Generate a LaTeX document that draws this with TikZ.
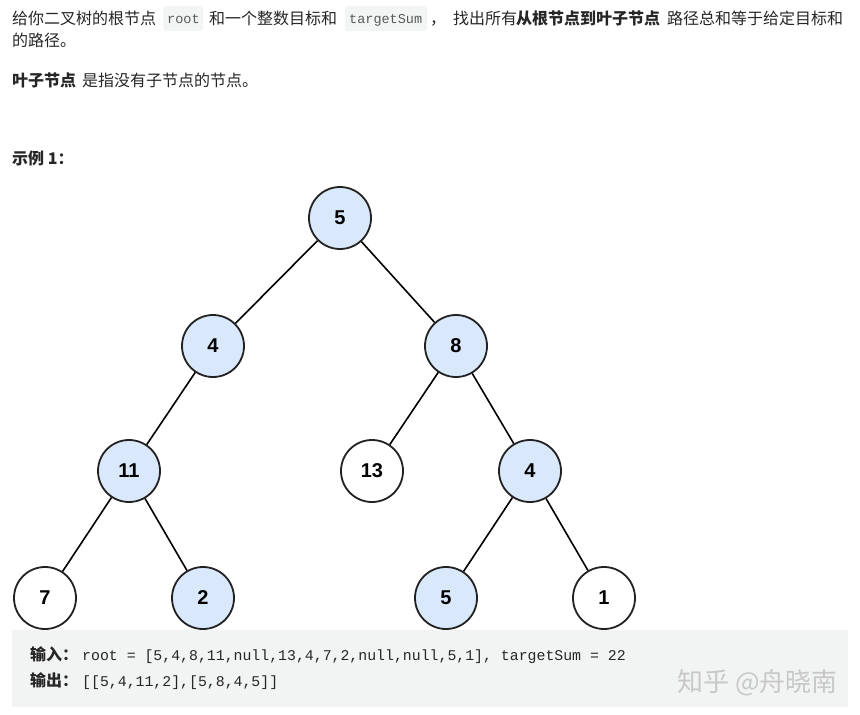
\documentclass[tikz,border=0pt]{standalone}
\usepackage{fontspec}
\setmainfont{Noto Sans CJK SC}
\newfontfamily\numfont{Liberation Sans}
\newfontfamily\codefont{Liberation Mono}
\definecolor{nodeblue}{HTML}{DAE8FC}
\definecolor{edgec}{HTML}{222222}
\definecolor{boxgray}{HTML}{F2F3F3}
\definecolor{txt}{HTML}{262626}
\definecolor{inl}{HTML}{F3F4F4}
\definecolor{wm}{HTML}{C8C8C8}
\tikzset{
  tnode/.style={circle,draw=edgec,line width=1.8pt,minimum size=62pt,inner sep=0pt,font=\numfont\fontsize{20}{20}\selectfont\bfseries,text=black},
  blue/.style={tnode,fill=nodeblue},
  white/.style={tnode,fill=white},
  tedge/.style={draw=black,line width=1.6pt},
  body/.style={anchor=base west,inner sep=0pt,text=txt,font=\fontsize{16}{17}\selectfont},
  bbody/.style={body,font=\fontsize{16}{17}\selectfont\bfseries},
  inlcode/.style={anchor=base west,inner sep=0pt,text=black!65,font=\codefont\fontsize{13.5}{14}\selectfont},
  code/.style={anchor=base west,inner sep=0pt,text=txt,font=\codefont\fontsize{14.85}{15}\selectfont},
  cjkcode/.style={anchor=base west,inner sep=0pt,text=txt,font=\fontsize{16}{17}\selectfont\bfseries},
}
\begin{document}
\begin{tikzpicture}[x=1pt,y=-1pt]
\useasboundingbox[fill=white] (0,0) rectangle (860,715);
% header text
\fill[inl,rounded corners=3pt] (163,6) rectangle (203,31);
\fill[inl,rounded corners=3pt] (345,6) rectangle (427,31);
\node[body] (t1) at (12,24) {给你二叉树的根节点};
\node[inlcode] (t2) at (167,23) {root};
\node[body] (t3) at (209,24) {和一个整数目标和};
\node[inlcode] (t4) at (349,23) {targetSum};
\node[body] (t5) at (430,24) {，};
\node[body] (t5b) at (453,24) {找出所有};
\node[bbody] (t6) at (516,24) {从根节点到叶子节点};
\node[body] (t7) at (667,24) {路径总和等于给定目标和};
\node[body] (t8) at (12,46) {的路径。};
\node[bbody] (t9) at (12,86) {叶子节点};
\node[body] (t10) at (82,86) {是指没有子节点的节点。};
\node[bbody] (t11) at (12,164) {示例 1：};
% tree
\node[blue]  (n5)  at (340,218) {5};
\node[blue]  (n4)  at (213,346) {4};
\node[blue]  (n8)  at (456,346) {8};
\node[blue]  (n11) at (129,471) {11};
\node[white] (n13) at (372,471) {13};
\node[blue]  (n4b) at (530,471) {4};
\node[white] (n7)  at (45,598)  {7};
\node[blue]  (n2)  at (203,598) {2};
\node[blue]  (n5b) at (446,598) {5};
\node[white] (n1)  at (604,598) {1};
\draw[tedge] (n5) -- (n4);
\draw[tedge] (n5) -- (n8);
\draw[tedge] (n4) -- (n11);
\draw[tedge] (n8) -- (n13);
\draw[tedge] (n8) -- (n4b);
\draw[tedge] (n11) -- (n7);
\draw[tedge] (n11) -- (n2);
\draw[tedge] (n4b) -- (n5b);
\draw[tedge] (n4b) -- (n1);
% code box
\fill[boxgray] (12,630) rectangle (848,707);
\node[cjkcode] (c1) at (30,660) {输入：};
\node[code] (c2) at (82,660) {root = [5,4,8,11,null,13,4,7,2,null,null,5,1], targetSum = 22};
\node[cjkcode] (c3) at (30,686) {输出：};
\node[code] (c4) at (82,686) {[[5,4,11,2],[5,8,4,5]]};
\node[anchor=base west,inner sep=0pt,text=wm,font=\fontsize{26}{27}\selectfont] (w) at (677,691) {知乎 @舟晓南};
\end{tikzpicture}
\end{document}
